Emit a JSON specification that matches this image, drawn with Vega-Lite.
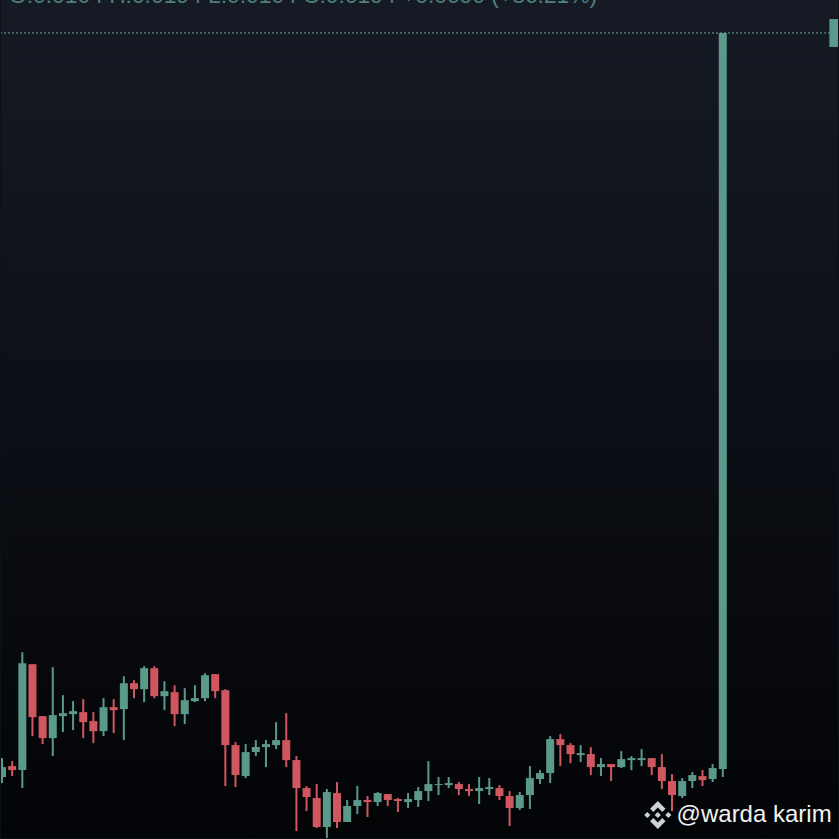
{"$schema":"https://vega.github.io/schema/vega-lite/v6.json","width":839,"height":839,"autosize":{"type":"fit","contains":"padding"},"padding":0,"background":"#0d1017","view":{"stroke":null,"fill":{"gradient":"linear","x1":0,"y1":0,"x2":0,"y2":1,"stops":[{"offset":0,"color":"#151a24"},{"offset":0.35,"color":"#0f121a"},{"offset":0.7,"color":"#090b10"},{"offset":0.9,"color":"#050609"},{"offset":1,"color":"#030406"}]}},"config":{"axis":{"disable":true}},"datasets":{"candles":[
{"i":0,"dir":"up","o":61,"c":71,"h":80,"l":55},
{"i":1,"dir":"down","o":72,"c":68,"h":77,"l":62},
{"i":2,"dir":"up","o":68,"c":175,"h":186,"l":50},
{"i":3,"dir":"down","o":174,"c":121,"h":174,"l":102},
{"i":4,"dir":"down","o":122,"c":100,"h":122,"l":94},
{"i":5,"dir":"up","o":100,"c":123,"h":171,"l":82},
{"i":6,"dir":"up","o":122,"c":125,"h":143,"l":106},
{"i":7,"dir":"up","o":124,"c":127,"h":137,"l":108},
{"i":8,"dir":"down","o":126,"c":116,"h":139,"l":100},
{"i":9,"dir":"down","o":117,"c":107,"h":126,"l":95},
{"i":10,"dir":"up","o":107,"c":131,"h":140,"l":102},
{"i":11,"dir":"down","o":131,"c":128,"h":139,"l":105},
{"i":12,"dir":"up","o":129,"c":155,"h":162,"l":98},
{"i":13,"dir":"down","o":155,"c":149,"h":158,"l":140},
{"i":14,"dir":"up","o":149,"c":170,"h":172,"l":136},
{"i":15,"dir":"down","o":170,"c":142,"h":172,"l":140},
{"i":16,"dir":"up","o":142,"c":147,"h":157,"l":128},
{"i":17,"dir":"down","o":146,"c":124,"h":153,"l":112},
{"i":18,"dir":"up","o":124,"c":138,"h":150,"l":114},
{"i":19,"dir":"up","o":137,"c":140,"h":153,"l":136},
{"i":20,"dir":"up","o":140,"c":163,"h":165,"l":137},
{"i":21,"dir":"down","o":164,"c":147,"h":164,"l":140},
{"i":22,"dir":"down","o":148,"c":93,"h":149,"l":52},
{"i":23,"dir":"down","o":93,"c":63,"h":96,"l":51},
{"i":24,"dir":"up","o":62,"c":86,"h":94,"l":60},
{"i":25,"dir":"up","o":86,"c":91,"h":98,"l":82},
{"i":26,"dir":"up","o":91,"c":94,"h":98,"l":71},
{"i":27,"dir":"up","o":93,"c":98,"h":116,"l":89},
{"i":28,"dir":"down","o":98,"c":78,"h":125,"l":71},
{"i":29,"dir":"down","o":78,"c":50,"h":82,"l":7},
{"i":30,"dir":"down","o":50,"c":41,"h":52,"l":27},
{"i":31,"dir":"down","o":40,"c":11,"h":54,"l":10},
{"i":32,"dir":"up","o":11,"c":46,"h":49,"l":0},
{"i":33,"dir":"down","o":45,"c":16,"h":56,"l":10},
{"i":34,"dir":"up","o":16,"c":32,"h":38,"l":16},
{"i":35,"dir":"up","o":32,"c":38,"h":52,"l":24},
{"i":36,"dir":"down","o":38,"c":36,"h":42,"l":21},
{"i":37,"dir":"up","o":36,"c":45,"h":46,"l":32},
{"i":38,"dir":"down","o":44,"c":38,"h":44,"l":32},
{"i":39,"dir":"down","o":39,"c":37,"h":40,"l":26},
{"i":40,"dir":"up","o":36,"c":39,"h":45,"l":30},
{"i":41,"dir":"up","o":38,"c":47,"h":51,"l":31},
{"i":42,"dir":"up","o":47,"c":54,"h":77,"l":37},
{"i":43,"dir":"up","o":53,"c":54,"h":61,"l":43},
{"i":44,"dir":"up","o":53,"c":55,"h":61,"l":50},
{"i":45,"dir":"down","o":54,"c":49,"h":56,"l":43},
{"i":46,"dir":"down","o":49,"c":47,"h":54,"l":42},
{"i":47,"dir":"up","o":47,"c":50,"h":61,"l":34},
{"i":48,"dir":"up","o":49,"c":51,"h":60,"l":43},
{"i":49,"dir":"down","o":50,"c":42,"h":53,"l":38},
{"i":50,"dir":"down","o":42,"c":30,"h":47,"l":12},
{"i":51,"dir":"up","o":30,"c":43,"h":46,"l":28},
{"i":52,"dir":"up","o":43,"c":60,"h":72,"l":29},
{"i":53,"dir":"up","o":59,"c":65,"h":68,"l":54},
{"i":54,"dir":"up","o":65,"c":99,"h":102,"l":55},
{"i":55,"dir":"down","o":99,"c":93,"h":104,"l":72},
{"i":56,"dir":"down","o":93,"c":84,"h":95,"l":75},
{"i":57,"dir":"up","o":83,"c":85,"h":93,"l":76},
{"i":58,"dir":"down","o":84,"c":71,"h":91,"l":63},
{"i":59,"dir":"up","o":71,"c":74,"h":80,"l":62},
{"i":60,"dir":"down","o":74,"c":71,"h":74,"l":57},
{"i":61,"dir":"up","o":71,"c":79,"h":87,"l":70},
{"i":62,"dir":"up","o":78,"c":80,"h":82,"l":68},
{"i":63,"dir":"up","o":78,"c":80,"h":89,"l":72},
{"i":64,"dir":"down","o":80,"c":71,"h":80,"l":63},
{"i":65,"dir":"down","o":71,"c":57,"h":84,"l":49},
{"i":66,"dir":"down","o":57,"c":43,"h":64,"l":27},
{"i":67,"dir":"up","o":42,"c":57,"h":60,"l":40},
{"i":68,"dir":"up","o":57,"c":63,"h":66,"l":50},
{"i":69,"dir":"down","o":62,"c":58,"h":68,"l":52},
{"i":70,"dir":"up","o":59,"c":70,"h":74,"l":56},
{"i":71,"dir":"up","o":69,"c":806,"h":806,"l":61}
]},"layer":[
{"data":{"values":[{"last":806}]},"mark":{"type":"rule","strokeDash":[2,2],"strokeWidth":1,"color":"#6fa89a","opacity":1},"encoding":{"y":{"field":"last","type":"quantitative","scale":{"domain":[0,839],"nice":false,"zero":false}}}},
{"data":{"name":"candles"},"mark":{"type":"rule","strokeWidth":2},"encoding":{"x":{"field":"i","type":"quantitative","scale":{"domain":[-0.1,82.35],"nice":false,"zero":false,"padding":0}},"y":{"field":"l","type":"quantitative","scale":{"domain":[0,839],"nice":false,"zero":false}},"y2":{"field":"h"},"color":{"field":"dir","type":"nominal","legend":null,"scale":{"domain":["up","down"],"range":["#5b9a8b","#d0575f"]}}}},
{"data":{"name":"candles"},"mark":{"type":"bar","width":8,"clip":true},"encoding":{"x":{"field":"i","type":"quantitative","scale":{"domain":[-0.1,82.35],"nice":false,"zero":false,"padding":0}},"y":{"field":"o","type":"quantitative","scale":{"domain":[0,839],"nice":false,"zero":false}},"y2":{"field":"c"},"color":{"field":"dir","type":"nominal","legend":null,"scale":{"domain":["up","down"],"range":["#5b9a8b","#d0575f"]}}}},
{"data":{"values":[{"a":81.5,"b":84,"lo":792,"hi":820}]},"mark":{"type":"rect","color":"#5b9a8b","clip":true},"encoding":{"x":{"field":"a","type":"quantitative","scale":{"domain":[-0.1,82.35],"nice":false,"zero":false,"padding":0}},"x2":{"field":"b"},"y":{"field":"lo","type":"quantitative","scale":{"domain":[0,839],"nice":false,"zero":false}},"y2":{"field":"hi"}}},
{"data":{"values":[{"pos":64.6,"p":23}]},"mark":{"type":"point","filled":true,"opacity":1,"size":784,"color":"#cfd2d4","shape":"M0,-0.22L0.22,0L0,0.22L-0.22,0ZM-0.75,-0.22L-0.53,0L-0.75,0.22L-0.97,0ZM0.75,-0.22L0.97,0L0.75,0.22L0.53,0ZM0,-1L0.55,-0.45L0.32,-0.22L0,-0.54L-0.32,-0.22L-0.55,-0.45ZM0,1L0.55,0.45L0.32,0.22L0,0.54L-0.32,0.22L-0.55,0.45Z"},"encoding":{"x":{"field":"pos","type":"quantitative","scale":{"domain":[-0.1,82.35],"nice":false,"zero":false,"padding":0}},"y":{"field":"p","type":"quantitative","scale":{"domain":[0,839],"nice":false,"zero":false}}}},
{"data":{"values":[{"pos":66.45,"p":23,"t":"@warda karim"}]},"mark":{"type":"text","align":"left","baseline":"middle","font":"Liberation Sans","fontSize":24,"color":"#f2f2f2"},"encoding":{"x":{"field":"pos","type":"quantitative","scale":{"domain":[-0.1,82.35],"nice":false,"zero":false,"padding":0}},"y":{"field":"p","type":"quantitative","scale":{"domain":[0,839],"nice":false,"zero":false}},"text":{"field":"t"}}},
{"data":{"values":[{"pos":0.69,"p":836,"t":"O:0.0104 H:0.0194 L:0.0104 C:0.0194 +0.0090 (+86.21%)"}]},"mark":{"type":"text","align":"left","baseline":"alphabetic","font":"Liberation Sans","fontSize":22.8,"color":"#5f9a8c","opacity":0.8,"clip":true},"encoding":{"x":{"field":"pos","type":"quantitative","scale":{"domain":[-0.1,82.35],"nice":false,"zero":false,"padding":0}},"y":{"field":"p","type":"quantitative","scale":{"domain":[0,839],"nice":false,"zero":false}},"text":{"field":"t"}}}
]}
